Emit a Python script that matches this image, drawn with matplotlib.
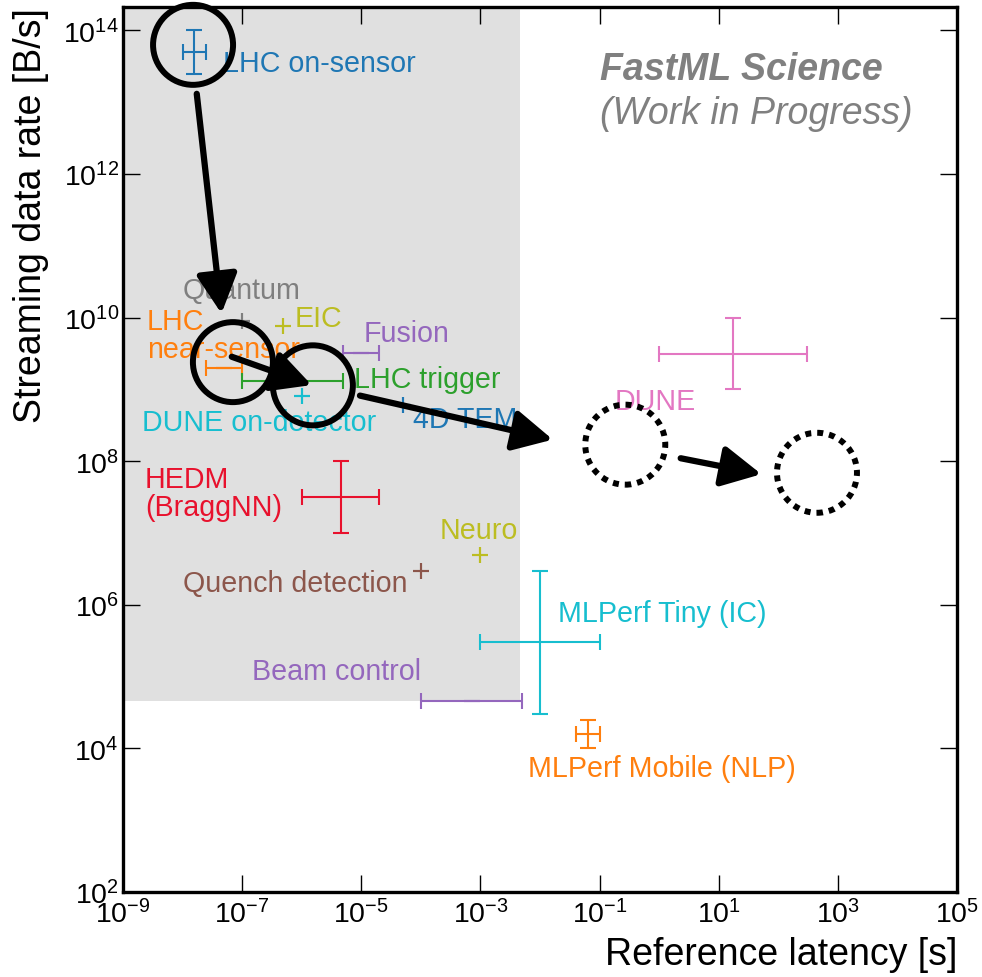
import matplotlib
matplotlib.use('Agg')
import matplotlib.pyplot as plt
import matplotlib.transforms as mtransforms
from matplotlib.patches import Circle
from matplotlib.ticker import FixedLocator, NullLocator
import numpy as np

# ===== fonts =====
plt.rcParams['font.family'] = ['Liberation Sans', 'DejaVu Sans']
plt.rcParams['mathtext.fontset'] = 'custom'
plt.rcParams['mathtext.rm'] = 'Liberation Sans'
plt.rcParams['mathtext.it'] = 'Liberation Sans:italic'
plt.rcParams['mathtext.bf'] = 'Liberation Sans:bold'

# ===== data: latency [s] and streaming data rate [B/s] with ranges =====
names = ['LHC on-sensor', 'LHC\nnear-sensor', 'LHC trigger', 'HEDM\n(BraggNN)', 'Fusion',
         'Quench detection', 'DUNE', 'Quantum', 'EIC', 'DUNE on-detector', '4D TEM',
         'MLPerf Mobile (NLP)', 'Neuro', 'Beam control', 'MLPerf Tiny (IC)']
lat    = [1.58e-8, 5e-8,   7.1e-7, 4.5e-6, 1e-5,   1e-4, 17.3, 1e-7, 4.8e-7, 1e-6, 5e-5, 0.063, 1e-3, 7.1e-4, 1e-2]
lat_lo = [1e-8,    2.5e-8, 1e-7,   1e-6,   5e-6,   1e-4, 1.0,  1e-7, 4.8e-7, 1e-6, 5e-5, 0.04,  1e-3, 1e-4,   1e-3]
lat_hi = [2.5e-8,  1e-7,   5e-6,   2e-5,   2e-5,   1e-4, 300,  1e-7, 4.8e-7, 1e-6, 5e-5, 0.1,   1e-3, 5e-3,   1e-1]
rate    = [5e13,   2e9, 1.3e9, 3.16e7, 3.2e9, 3e6, 3.16e9, 9e9, 7.6e9, 8e8, 6e8, 1.58e4, 5e6, 4.6e4, 3e5]
rate_lo = [2.5e13, 2e9, 1.3e9, 1e7,    3.2e9, 3e6, 1e9,    9e9, 7.6e9, 8e8, 6e8, 1e4,    5e6, 4.6e4, 3e4]
rate_hi = [1e14,   2e9, 1.3e9, 1e8,    3.2e9, 3e6, 1e10,   9e9, 7.6e9, 8e8, 6e8, 2.5e4,  5e6, 4.6e4, 3e6]

# label anchors (left edge, baseline of first line)
label_x = [4.8e-8, 2.5e-9, 7.5e-6, 2.34e-9, 1.08e-5, 1e-8, 0.18, 1e-8, 7.7e-7, 2.06e-9, 7.4e-5,
           6.3e-3, 2.03e-4, 1.44e-7, 0.020]
label_y = [2.7e13, 7.05e9, 1.09e9, 4.4e7, 4.7e9, 1.57e6, 5.3e8, 1.85e10, 7.7e9, 2.7e8, 3.0e8,
           4.1e3, 8.65e6, 9.4e4, 6.0e5]

colors = ['#1f77b4', '#ff7f0e', '#2ca02c', '#e8112d', '#9467bd', '#8c564b', '#e377c2', '#7f7f7f',
          '#bcbd22', '#17becf', '#1f77b4', '#ff7f0e', '#bcbd22', '#9467bd', '#17becf']

# shaded region (real-time edge)
shade_x_max = 4.7e-3
shade_y_min = 4.6e4

# hand-drawn annotations: circles and arrows
circle_x = [1.5e-8, 7e-8, 1.54e-6, 0.27, 446]
circle_y = [6.3e13, 2.4e9, 1.14e9, 1.7e8, 6.9e7]
circle_dotted = [False, False, False, True, True]
arrow_from = [(1.73e-8, 1.31e13), (6.7e-8, 2.85e9), (9.5e-6, 8.2e8), (2.3, 1.1e8)]
arrow_to = [(4.5e-8, 1.14e10), (1.47e-6, 1.15e9), (0.0164, 2.0e8), (52, 6.6e7)]

x_lim = (1e-9, 1e5)
y_lim = (1e2, 2.1e14)
x_ticks = 10.0 ** np.arange(-9, 6, 2)
y_ticks = 10.0 ** np.arange(2, 15, 2)

# ===== plot =====
fig = plt.figure(figsize=(9.82, 9.78), dpi=100)
ax = fig.add_axes([0.12525, 0.08691, 0.84929, 0.90460])
ax.set_xscale('log')
ax.set_yscale('log')

ax.fill_between([x_lim[0], shade_x_max], shade_y_min, y_lim[1], color='#e0e0e0', lw=0, zorder=0)

for i in range(len(names)):
    xerr = [[lat[i] - lat_lo[i]], [lat_hi[i] - lat[i]]]
    yerr = [[rate[i] - rate_lo[i]], [rate_hi[i] - rate[i]]]
    ax.errorbar([lat[i]], [rate[i]], xerr=xerr, yerr=yerr, fmt='none', ecolor=colors[i],
                elinewidth=1.5, capsize=6, capthick=1.5, zorder=3)
    for j, line in enumerate(names[i].split('\n')):
        ax.annotate(line, xy=(label_x[i], label_y[i]), xytext=(0, -20.5 * j),
                    textcoords='offset points', color=colors[i], fontsize=20.6,
                    ha='left', va='baseline', zorder=4)

ax.text(0.572, 0.919, 'FastML Science', transform=ax.transAxes, fontsize=27,
        fontweight='bold', style='italic', color='#808080', va='baseline')
ax.text(0.572, 0.869, '(Work in Progress)', transform=ax.transAxes, fontsize=27,
        style='italic', color='#808080', va='baseline')

# annotations on top
for cx, cy, dotted in zip(circle_x, circle_y, circle_dotted):
    trans = fig.dpi_scale_trans + mtransforms.ScaledTranslation(cx, cy, ax.transData)
    ls = (0, (1, 1.0)) if dotted else '-'
    ax.add_patch(Circle((0, 0), 0.4, transform=trans, fill=False, ec='black', lw=4.3,
                        ls=ls, clip_on=False, zorder=6))
for p0, p1 in zip(arrow_from, arrow_to):
    ax.annotate('', xy=p1, xytext=p0,
                arrowprops=dict(arrowstyle='-|>,head_length=1.2,head_width=0.62',
                                mutation_scale=20, lw=4.5, color='black',
                                shrinkA=0, shrinkB=0), zorder=7)

ax.set_xlim(*x_lim)
ax.set_ylim(*y_lim)
ax.xaxis.set_major_locator(FixedLocator(x_ticks))
ax.yaxis.set_major_locator(FixedLocator(y_ticks))
ax.xaxis.set_minor_locator(NullLocator())
ax.yaxis.set_minor_locator(NullLocator())
ax.tick_params(which='major', direction='in', length=12, width=1, top=True, right=True,
               labelsize=20.5)
ax.tick_params(axis='x', pad=5)
ax.tick_params(axis='y', pad=3)
for s in ax.spines.values():
    s.set_linewidth(2.4)

ax.set_xlabel('Reference latency [s]', fontsize=27, loc='right', labelpad=6)
ax.set_ylabel('Streaming data rate [B/s]', fontsize=27, loc='top', labelpad=10)

fig.savefig('out.png', dpi=100)
